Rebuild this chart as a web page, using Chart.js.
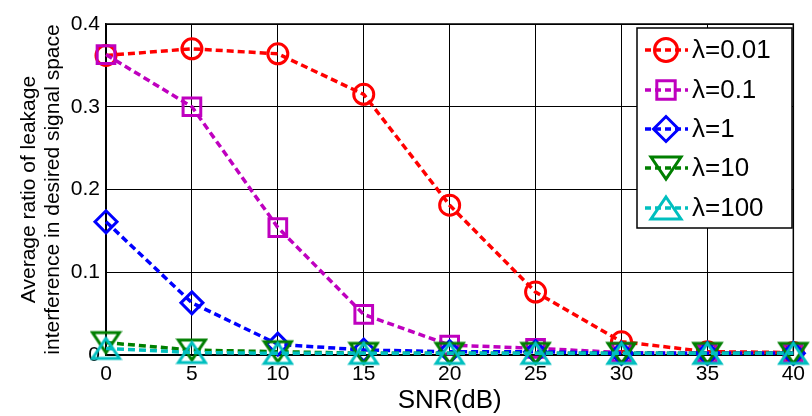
<!DOCTYPE html>
<html>
<head>
<meta charset="utf-8">
<script src="https://cdn.jsdelivr.net/npm/chart.js@4.4.1/dist/chart.umd.min.js"></script>
<style>
  body { margin: 0; background: #fff; }
  #wrap { width: 812px; height: 416px; }
</style>
</head>
<body>
<div id="wrap"><canvas id="myChart" width="812" height="416"></canvas></div>
<script>
// SNR values on the x axis (dB)
var snr = [0, 5, 10, 15, 20, 25, 30, 35, 40];

// Series names
var labels = ["λ=0.01", "λ=0.1", "λ=1", "λ=10", "λ=100"];

// Average leakage ratio
var lam001 = [0.362, 0.370, 0.364, 0.315, 0.181, 0.076, 0.016, 0.004, 0.003];
var lam01 = [0.363, 0.300, 0.154, 0.049, 0.012, 0.008, 0.003, 0.002, 0.002];
var lam1 = [0.161, 0.063, 0.013, 0.006, 0.004, 0.004, 0.002, 0.002, 0.002];
var lam10 = [0.015, 0.006, 0.004, 0.002, 0.002, 0.002, 0.002, 0.002, 0.002];
var lam100 = [0.008, 0.003, 0.002, 0.002, 0.002, 0.002, 0.002, 0.002, 0.002];

// y tick values
var yTicks = [0, 0.1, 0.2, 0.3, 0.4];

var FONT = "'Liberation Sans', Arial, sans-serif";
var colors = ["#ff0000", "#bf00bf", "#0000ff", "#007f00", "#00bfbf"];
var series = [lam001, lam01, lam1, lam10, lam100];

// MATLAB triangles are wider than they are tall, so draw them on a small canvas
function triangleImage(color, w, h, down) {
    var c = document.createElement("canvas");
    c.width = w + 6;
    c.height = h + 6;
    var g = c.getContext("2d");
    g.strokeStyle = color;
    g.lineWidth = 3;
    g.lineJoin = "miter";
    g.beginPath();
    if (down) {
        g.moveTo(3, 3); g.lineTo(w + 3, 3); g.lineTo(w / 2 + 3, h + 3);
    } else {
        g.moveTo(w / 2 + 3, 3); g.lineTo(w + 3, h + 3); g.lineTo(3, h + 3);
    }
    g.closePath();
    g.stroke();
    return c;
}

var styles = ["circle", "rect", "rectRot",
    triangleImage(colors[3], 27, 20, true),
    triangleImage(colors[4], 27, 20, false)];
var legendStyles = ["circle", "rect", "rectRot",
    triangleImage(colors[3], 30, 22, true),
    triangleImage(colors[4], 30, 22, false)];
var radii = [10, 12.5, 11, 12, 12];
var legendRadii = [11.5, 13, 12.5, 12, 12];

// turns one series into {x, y} points
function toPoints(vals) {
    return vals.map(function (v, i) { return { x: snr[i], y: v }; });
}

var datasets = series.map(function (vals, i) {
    return {
        label: labels[i],
        data: toPoints(vals),
        borderColor: colors[i],
        backgroundColor: "rgba(0,0,0,0)",
        borderWidth: 3.5,
        borderDash: [7, 4],
        pointStyle: styles[i],
        pointRadius: radii[i],
        pointBorderWidth: 3,
        pointBorderColor: colors[i],
        pointBackgroundColor: "rgba(0,0,0,0)",
        clip: false,
        order: 5 - i // later series drawn on top, like MATLAB
    };
});

// Draws the MATLAB style legend box in the top right corner
var boxLegend = {
    id: "boxLegend",
    afterDraw: function (chart) {
        var ctx = chart.ctx;
        var x0 = 637, y0 = 28, w = 155, h = 200;
        ctx.save();
        ctx.fillStyle = "#fff";
        ctx.fillRect(x0, y0, w, h);
        ctx.strokeStyle = "#000";
        ctx.lineWidth = 1.5;
        ctx.strokeRect(x0, y0, w, h);
        var ys = [50, 90, 129, 168, 208];
        chart.data.datasets.forEach(function (ds, i) {
            var y = ys[i];
            ctx.strokeStyle = ds.borderColor;
            ctx.lineWidth = 3.5;
            ctx.setLineDash([6, 4]);
            ctx.beginPath();
            ctx.moveTo(645, y);
            ctx.lineTo(688, y);
            ctx.stroke();
            ctx.setLineDash([]);
            ctx.fillStyle = "rgba(0,0,0,0)";
            ctx.lineWidth = 3;
            Chart.helpers.drawPoint(ctx, {
                pointStyle: legendStyles[i],
                rotation: 0,
                radius: legendRadii[i],
                borderWidth: 3
            }, 666, y);
            ctx.fillStyle = "#000";
            ctx.font = "26px " + FONT;
            ctx.textBaseline = "middle";
            ctx.textAlign = "left";
            ctx.fillText(ds.label, 692, y + 1);
        });
        ctx.restore();
    }
};

// top and right edges of the axes box
var frame = {
    id: "frame",
    beforeDatasetsDraw: function (chart) {
        var a = chart.chartArea, ctx = chart.ctx;
        ctx.save();
        ctx.strokeStyle = "#000";
        ctx.lineWidth = 1.5;
        ctx.strokeRect(a.left, a.top, a.right - a.left, a.bottom - a.top);
        ctx.restore();
    }
};

new Chart("myChart", {
    type: "line",
    data: { datasets: datasets },
    plugins: [frame, boxLegend],
    options: {
        responsive: false,
        animation: false,
        layout: { padding: { left: 0, top: 24, right: 11, bottom: 0 } },
        plugins: {
            legend: { display: false },
            tooltip: { enabled: false }
        },
        scales: {
            x: {
                type: "linear",
                min: 0,
                max: 40,
                border: { display: true, color: "#000", width: 1.5 },
                grid: { color: "#000", lineWidth: 1, drawTicks: false },
                ticks: {
                    stepSize: 5,
                    color: "#000",
                    padding: 7,
                    font: { family: FONT, size: 21 }
                },
                title: {
                    display: true,
                    text: "SNR(dB)",
                    color: "#000",
                    padding: { top: 0, bottom: 0 },
                    font: { family: FONT, size: 26 }
                },
                afterFit: function (scale) { scale.height = 61; }
            },
            y: {
                min: 0,
                max: 0.4,
                border: { display: true, color: "#000", width: 1.5 },
                grid: { color: "#000", lineWidth: 1, drawTicks: false },
                afterBuildTicks: function (scale) {
                    scale.ticks = yTicks.map(function (v) { return { value: v }; });
                },
                ticks: {
                    color: "#000",
                    padding: 6,
                    callback: function (v) { return v === 0 ? "0" : v.toFixed(1); },
                    font: { family: FONT, size: 21 }
                },
                title: {
                    display: true,
                    text: ["Average ratio of leakage", "interference in desired signal space"],
                    color: "#000",
                    padding: { top: 17, bottom: 0 },
                    font: { family: FONT, size: 21, lineHeight: 1.15 }
                },
                afterFit: function (scale) { scale.width = 106; }
            }
        }
    }
});
</script>
</body>
</html>
